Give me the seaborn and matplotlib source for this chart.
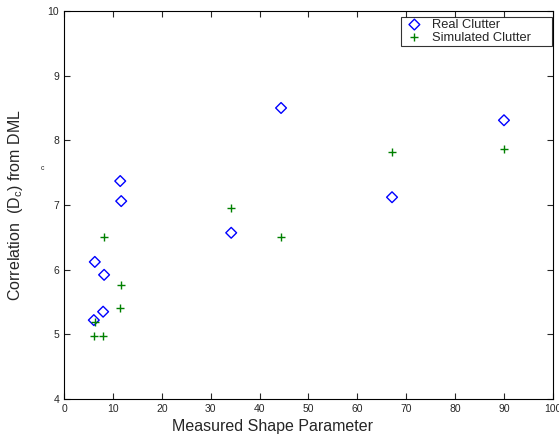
import pandas as pd
import seaborn as sns
import matplotlib.pyplot as plt

shape = [6.1, 6.3, 8.0, 8.2, 11.5, 11.7, 34.2, 44.4, 67.1, 90.0]
real = [5.22, 6.12, 5.35, 5.92, 7.37, 7.06, 6.57, 8.50, 7.12, 8.31]
simulated = [4.97, 5.19, 4.98, 6.50, 5.41, 5.76, 6.95, 6.50, 7.82, 7.87]

df = pd.DataFrame({'shape': shape, 'Real Clutter': real, 'Simulated Clutter': simulated})
df = df.melt(id_vars='shape', var_name='kind', value_name='corr')

sns.set_style('ticks')
plt.rcParams['font.family'] = ['Liberation Sans', 'DejaVu Sans']
plt.rcParams['mathtext.fontset'] = 'custom'
plt.rcParams['mathtext.rm'] = 'Liberation Sans'

fig = plt.figure(figsize=(5.59, 4.38), dpi=100)
ax = fig.add_axes([0.1145, 0.089, 0.8745, 0.886])

sns.scatterplot(data=df[df['kind'] == 'Real Clutter'], x='shape', y='corr', ax=ax,
                marker='D', s=30, facecolor='none', edgecolor='#0000ff', linewidth=1,
                label='Real Clutter')
sns.scatterplot(data=df[df['kind'] == 'Simulated Clutter'], x='shape', y='corr', ax=ax,
                marker='+', s=34, color='#008000', linewidth=1,
                label='Simulated Clutter')

ax.set_xlim(0, 100)
ax.set_ylim(4, 10)
ax.set_xticks(range(0, 101, 10))
ax.set_yticks(range(4, 11))
ax.tick_params(direction='in', top=True, right=True, labelsize=7.5, length=4, width=0.8)
for s in ax.spines.values():
    s.set_visible(True)
    s.set_linewidth(0.8)
    s.set_color('black')

ax.set_xlabel('Measured Shape Parameter', fontsize=11.5)
ax.xaxis.label.set_x(0.427)
ax.set_ylabel(r'Correlation  (D$_\mathrm{c}$) from DML', fontsize=11.5)
ax.yaxis.set_label_coords(-0.08, 0.5)
fig.text(0.073, 0.612, 'c', fontsize=5)

leg = ax.legend(loc='upper left', bbox_to_anchor=(0.689, 0.8845, 0.309, 0.1), mode='expand',
                fontsize=9.3, frameon=True, fancybox=False, borderaxespad=0, borderpad=0.15,
                handlelength=1.8, handletextpad=0.47, labelspacing=0.05)
leg.get_frame().set_edgecolor('black')
leg.get_frame().set_linewidth(0.8)

fig.savefig('out.png', dpi=100)
